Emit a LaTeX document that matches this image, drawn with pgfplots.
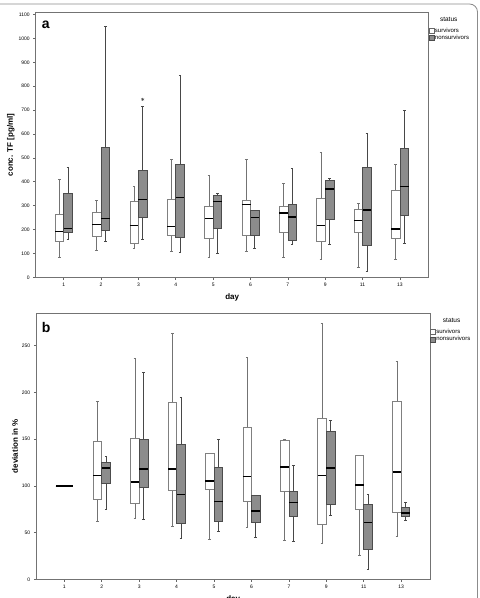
\documentclass[border=0pt]{standalone}
\usepackage{fontspec}
\setmainfont{Liberation Sans}
\usepackage{pgfplots}
\pgfplotsset{compat=1.18}

% one box-and-whisker glyph:
% #1 box style, #2 whisker style, #3 centre, #4 lower whisker, #5 Q1, #6 median, #7 Q3, #8 upper whisker
\newcommand{\bx}[8]{%
  \pgfmathsetmacro\bxl{#3-0.115}\pgfmathsetmacro\bxr{#3+0.115}%
  \pgfmathsetmacro\bxcl{#3-0.035}\pgfmathsetmacro\bxcr{#3+0.035}%
  \addplot[#2] coordinates {(#3,#4) (#3,#5)};
  \addplot[#2] coordinates {(#3,#7) (#3,#8)};
  \addplot[#2] coordinates {(\bxcl,#4) (\bxcr,#4)};
  \addplot[#2] coordinates {(\bxcl,#8) (\bxcr,#8)};
  \addplot[#1] coordinates {(\bxl,#5) (\bxr,#5) (\bxr,#7) (\bxl,#7)} -- cycle;
  \addplot[forget plot, draw=black, line width=1.4pt] coordinates {(\bxl,#6) (\bxr,#6)};
}

\pgfplotsset{
  survbox/.style={forget plot, draw=black!50, fill=white, line width=0.6pt},
  survwhisk/.style={forget plot, draw=black!55, line width=0.6pt},
  nonsbox/.style={forget plot, draw=black!70, fill=black!45, line width=0.6pt},
  nonswhisk/.style={forget plot, draw=black!72, line width=0.7pt},
  panel/.style={
    scale only axis, anchor=south west, clip=false,
    xmin=-0.75, xmax=9.77, ymin=0,
    xtick={0,...,9}, xticklabels={1,2,3,4,5,6,7,9,11,13},
    tick align=outside, tick pos=left, major tick length=2.5pt,
    axis line style={draw=black!55, line width=0.8pt},
    every tick/.style={draw=black!60, line width=0.6pt},
    tick label style={font=\fontsize{5}{6}\selectfont},
    /pgf/number format/assume math mode=true,
    /pgf/number format/set thousands separator={},
    label style={font=\bfseries\fontsize{8}{9}\selectfont},
    xlabel={day}, ylabel shift=-3pt,
    legend style={draw=none, fill=none, inner sep=0pt, anchor=north west,
      font=\fontsize{6}{6}\selectfont, row sep=0.4pt,
      nodes={inner xsep=0.6pt, inner ysep=0.5pt}},
    legend cell align=left,
  },
}

\begin{document}
\begin{tikzpicture}
\useasboundingbox (0pt,0pt) rectangle (480pt,598pt);
\draw[black!45, line width=0.8pt, rounded corners=8pt] (-20pt,-20pt) rectangle (477.5pt,594pt);

% ---------- panel a: TF concentration ----------
\begin{axis}[panel, at={(35.7pt,320.7pt)}, width=393pt, height=264.6pt,
  ymax=1108, ytick={0,100,...,1100},
  ylabel={conc. TF [pg/ml]},
  legend style={at={(1,0.946)}},
  legend image code/.code={\draw[#1] (0pt,-2.5pt) rectangle (5pt,2.5pt);}]
\addlegendimage{draw=black!60, fill=white, line width=0.5pt}
\addlegendentry{survivors}
\addlegendimage{draw=black!70, fill=black!45, line width=0.5pt}
\addlegendentry{nonsurvivors}
% survivors
\bx{survbox}{survwhisk}{-0.115}{82}{149}{193}{265}{412}
\bx{survbox}{survwhisk}{0.885}{115}{171}{221}{274}{321}
\bx{survbox}{survwhisk}{1.885}{121}{142}{217}{319}{381}
\bx{survbox}{survwhisk}{2.885}{110}{176}{212}{328}{494}
\bx{survbox}{survwhisk}{3.885}{85}{163}{246}{296}{426}
\bx{survbox}{survwhisk}{4.885}{108}{174}{304}{321}{496}
\bx{survbox}{survwhisk}{5.885}{83}{189}{269}{296}{394}
\bx{survbox}{survwhisk}{6.885}{76}{150}{217}{329}{525}
\bx{survbox}{survwhisk}{7.885}{43}{188}{239}{286}{310}
\bx{survbox}{survwhisk}{8.885}{74}{163}{203}{365}{472}
% nonsurvivors
\bx{nonsbox}{nonswhisk}{0.115}{161}{189}{205}{351}{462}
\bx{nonsbox}{nonswhisk}{1.115}{149}{196}{247}{546}{1052}
\bx{nonsbox}{nonswhisk}{2.115}{161}{251}{325}{446}{717}
\bx{nonsbox}{nonswhisk}{3.115}{106}{169}{333}{472}{844}
\bx{nonsbox}{nonswhisk}{4.115}{101}{207}{318}{343}{351}
\bx{nonsbox}{nonswhisk}{5.115}{122}{174}{250}{282}{282}
\bx{nonsbox}{nonswhisk}{6.115}{138}{153}{253}{307}{457}
\bx{nonsbox}{nonswhisk}{7.115}{136}{242}{369}{406}{414}
\bx{nonsbox}{nonswhisk}{8.115}{24}{135}{281}{460}{604}
\bx{nonsbox}{nonswhisk}{9.115}{143}{261}{381}{540}{699}
% extreme value, day 3 nonsurvivors
\addplot[forget plot, only marks, mark=asterisk, mark size=1.6pt,
  mark options={draw=black!70, line width=0.5pt}] coordinates {(2.115,745)};
\node[anchor=base west, inner sep=0pt, font=\bfseries\fontsize{14}{14}\selectfont]
  at (axis description cs:0.0155,0.942) {a};
\node[font=\fontsize{6.5}{7}\selectfont] at (axis description cs:1.051,0.975) {status};
\end{axis}

% ---------- panel b: deviation from day 1 ----------
\begin{axis}[panel, at={(36.3pt,18.7pt)}, width=393.7pt, height=266.3pt,
  ymax=285, ytick={0,50,...,250},
  ylabel={deviation in \%},
  legend style={at={(1,0.942)}},
  legend image code/.code={\draw[#1] (0pt,-2.5pt) rectangle (5pt,2.5pt);}]
\addlegendimage{draw=black!60, fill=white, line width=0.5pt}
\addlegendentry{survivors}
\addlegendimage{draw=black!70, fill=black!45, line width=0.5pt}
\addlegendentry{nonsurvivors}
% survivors
\bx{survbox}{survwhisk}{-0.115}{100}{100}{100}{100}{100}
\bx{survbox}{survwhisk}{0.885}{62}{86}{111}{148}{190}
\bx{survbox}{survwhisk}{1.885}{65}{81}{104}{151}{236}
\bx{survbox}{survwhisk}{2.885}{57}{95}{118}{189}{263}
\bx{survbox}{survwhisk}{3.885}{43}{96}{105}{135}{135}
\bx{survbox}{survwhisk}{4.885}{56}{84}{110}{163}{238}
\bx{survbox}{survwhisk}{5.885}{42}{94}{120}{149}{150}
\bx{survbox}{survwhisk}{6.885}{39}{59}{111}{172}{274}
\bx{survbox}{survwhisk}{7.885}{26}{75}{101}{133}{133}
\bx{survbox}{survwhisk}{8.885}{46}{72}{115}{190}{233}
% nonsurvivors
\bx{nonsbox}{nonswhisk}{0.115}{100}{100}{100}{100}{100}
\bx{nonsbox}{nonswhisk}{1.115}{75}{103}{119}{125}{132}
\bx{nonsbox}{nonswhisk}{2.115}{64}{98}{118}{150}{221}
\bx{nonsbox}{nonswhisk}{3.115}{44}{60}{91}{144}{195}
\bx{nonsbox}{nonswhisk}{4.115}{51}{62}{83}{120}{150}
\bx{nonsbox}{nonswhisk}{5.115}{45}{61}{73}{90}{90}
\bx{nonsbox}{nonswhisk}{6.115}{41}{67}{82}{94}{122}
\bx{nonsbox}{nonswhisk}{7.115}{68}{80}{119}{158}{170}
\bx{nonsbox}{nonswhisk}{8.115}{11}{32}{61}{80}{91}
\bx{nonsbox}{nonswhisk}{9.115}{63}{67}{71}{77}{82.5}
\node[anchor=base west, inner sep=0pt, font=\bfseries\fontsize{14}{14}\selectfont]
  at (axis description cs:0.0137,0.926) {b};
\node[font=\fontsize{6.5}{7}\selectfont] at (axis description cs:1.055,0.971) {status};
\end{axis}
\end{tikzpicture}
\end{document}
